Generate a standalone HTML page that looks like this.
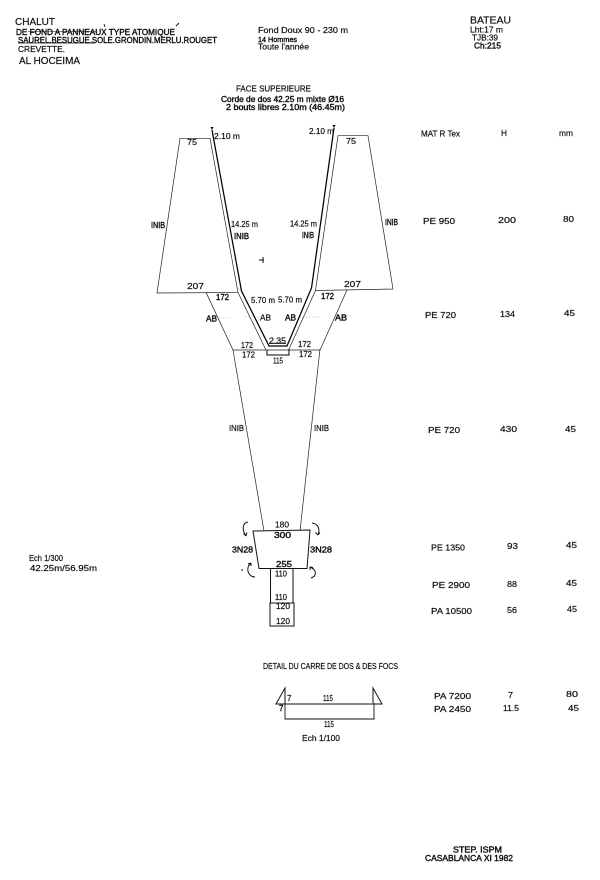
<!DOCTYPE html>
<html><head><meta charset="utf-8"><style>
html,body{margin:0;padding:0;background:#fff;width:600px;height:880px;overflow:hidden}
svg{display:block;position:absolute;left:0;top:0}
text{font-family:"Liberation Sans",sans-serif;font-size:8px;fill:#111;stroke:#111;stroke-width:.2}
.b{stroke-width:.4}
.l{fill:none;stroke:#222;stroke-width:.7}
.t{fill:none;stroke:#000;stroke-width:1.25}
.a{fill:none;stroke:#111;stroke-width:1}
</style></head><body>
<svg width="600" height="880" viewBox="0 0 600 880" xmlns="http://www.w3.org/2000/svg">
<g lengthAdjust="spacingAndGlyphs">
<path d="M216 318H232M245 317H262M300 317H320M340 316H352" stroke="#e2e2e2" stroke-width="1" stroke-dasharray="2 1" fill="none"/>

<!-- header -->
<text x="15" y="25" style="font-size:10px" textLength="40" lengthAdjust="spacingAndGlyphs">CHALUT</text>
<text class="b" x="16" y="35" textLength="159" lengthAdjust="spacingAndGlyphs">DE FOND A PANNEAUX TYPE ATOMIQUE</text>
<path d="M28 31.5H96" stroke="#111" fill="none" stroke-width=".6"/>
<path d="M104 24l1 3M176 26l3-3" stroke="#111" fill="none" stroke-width=".9"/>
<text class="b" x="18" y="43" textLength="199" lengthAdjust="spacingAndGlyphs">SAUREL.BESUGUE.SOLE.GRONDIN.MERLU.ROUGET</text>
<path d="M18 43H95" stroke="#111" stroke-width=".8"/>
<text x="18" y="52" textLength="47" lengthAdjust="spacingAndGlyphs">CREVETTE.</text>
<text x="19" y="64" style="font-size:10px" textLength="61" lengthAdjust="spacingAndGlyphs">AL HOCEIMA</text>

<text x="258" y="33" textLength="90" lengthAdjust="spacingAndGlyphs">Fond Doux 90 - 230 m</text>
<text class="b" x="258" y="42" style="font-size:7.5px" textLength="39" lengthAdjust="spacingAndGlyphs">14 Hommes</text>
<text x="258" y="49.5" textLength="51" lengthAdjust="spacingAndGlyphs">Toute l'année</text>

<text x="470" y="23.5" style="font-size:10px" textLength="41" lengthAdjust="spacingAndGlyphs">BATEAU</text>
<text x="470" y="32.5" textLength="33" lengthAdjust="spacingAndGlyphs">Lht:17 m</text>
<text x="472" y="40.5" textLength="26" lengthAdjust="spacingAndGlyphs">TJB:39</text>
<text class="b" x="474" y="48.5" textLength="27" lengthAdjust="spacingAndGlyphs">Ch:215</text>

<text x="236" y="91.5" textLength="75" lengthAdjust="spacingAndGlyphs">FACE SUPERIEURE</text>
<text class="b" x="221" y="102" textLength="123" lengthAdjust="spacingAndGlyphs">Corde de dos 42.25 m mixte Ø16</text>
<text class="b" x="226" y="110" textLength="119" lengthAdjust="spacingAndGlyphs">2 bouts libres 2.10m (46.45m)</text>

<!-- upper panels -->
<path class="l" d="M180 138.3H210L238 292.5 157 293Z"/>
<path class="l" d="M338 135.7H368L393 289 315.5 290.5Z"/>
<!-- strips -->
<path class="l" d="M238 292.5L266 350"/>
<path class="t" d="M212 130L241.5 291 269 346H287L311.5 288 334 128"/>
<path class="l" d="M315.5 290.5L289 349"/>
<path d="M212 130l-1.5-3 3 0zM334 128l-1.5-3 3 0z" fill="#000"/>
<path d="M269 343.5H286" stroke="#000" stroke-width=".7"/>
<!-- AB panels -->
<path class="l" d="M206 292.3L233 350H320L347 290"/>
<path class="t" style="stroke-width:1" d="M267 350V355H289V349"/>
<!-- body -->
<path class="l" d="M233 350L264 531M320 349L300 531"/>
<path d="M253 531L310 530 307 568.5H259Z" fill="none" stroke="#111" stroke-width="1"/>
<path d="M270.5 569V603M293 569V603" fill="none" stroke="#111" stroke-width="1"/>
<path d="M270 603H294V626H270Z" fill="none" stroke="#111" stroke-width="1"/>

<!-- arrows -->
<path class="a" d="M248 522C242 523 242 530 246 536M246 536l-2.5-2.5M246 536l1-3.5"/>
<path class="a" d="M312 523C319 524 320 530 318 535M318 535l-2.5-2.5M318 535l2-2.5"/>
<path class="a" d="M255 577C248 577 245 568 251 563M251 563l-3 1M251 563l0 3"/>
<path class="a" d="M310 567C317 570 317 576 311 578M310 567l0 3M310 567l3 0.5"/>
<path d="M241 570h2" stroke="#111"/>

<!-- labels panel -->
<text x="187" y="145" textLength="10" lengthAdjust="spacingAndGlyphs">75</text>
<text x="214" y="139" textLength="26" lengthAdjust="spacingAndGlyphs">2.10 m</text>
<text x="309" y="134" textLength="25" lengthAdjust="spacingAndGlyphs">2.10 m</text>
<text x="346" y="144" textLength="10" lengthAdjust="spacingAndGlyphs">75</text>
<text class="b" x="151" y="228" textLength="14" lengthAdjust="spacingAndGlyphs">INIB</text>
<text class="b" x="385" y="225" textLength="13" lengthAdjust="spacingAndGlyphs">INIB</text>
<text x="231" y="227" textLength="27" lengthAdjust="spacingAndGlyphs">14.25 m</text>
<text x="290" y="226.5" textLength="27" lengthAdjust="spacingAndGlyphs">14.25 m</text>
<text class="b" x="234" y="239" textLength="15" lengthAdjust="spacingAndGlyphs">INIB</text>
<text class="b" x="302" y="238" textLength="12" lengthAdjust="spacingAndGlyphs">INIB</text>
<path d="M259 260h5M263 257v6" stroke="#111" fill="none"/>
<text x="187" y="289" textLength="17" lengthAdjust="spacingAndGlyphs">207</text>
<text x="344" y="287" textLength="17" lengthAdjust="spacingAndGlyphs">207</text>
<text class="b" x="216" y="300" textLength="13" lengthAdjust="spacingAndGlyphs">172</text>
<text class="b" x="321" y="299" textLength="13" lengthAdjust="spacingAndGlyphs">172</text>
<text x="251" y="303" textLength="24" lengthAdjust="spacingAndGlyphs">5.70 m</text>
<text x="278" y="302.5" textLength="24" lengthAdjust="spacingAndGlyphs">5.70 m</text>
<text class="b" x="206" y="321.5" textLength="11" lengthAdjust="spacingAndGlyphs">AB</text>
<text x="260" y="320.5" textLength="11" lengthAdjust="spacingAndGlyphs">AB</text>
<text class="b" x="285" y="320.5" textLength="11" lengthAdjust="spacingAndGlyphs">AB</text>
<text class="b" x="335" y="320.5" textLength="12" lengthAdjust="spacingAndGlyphs">AB</text>
<text x="269" y="343.5" textLength="17" lengthAdjust="spacingAndGlyphs">2.35</text>
<text x="241" y="348" textLength="12" lengthAdjust="spacingAndGlyphs">172</text>
<text x="298" y="347" textLength="13" lengthAdjust="spacingAndGlyphs">172</text>
<text x="242" y="357.5" textLength="13" lengthAdjust="spacingAndGlyphs">172</text>
<text x="299" y="357" textLength="13" lengthAdjust="spacingAndGlyphs">172</text>
<text x="273" y="363.5" textLength="10" lengthAdjust="spacingAndGlyphs">115</text>
<text x="229" y="431" textLength="15" lengthAdjust="spacingAndGlyphs">INIB</text>
<text x="314" y="431" textLength="15" lengthAdjust="spacingAndGlyphs">INIB</text>
<text x="275" y="527.5" textLength="14" lengthAdjust="spacingAndGlyphs">180</text>
<text class="b" x="274" y="538" textLength="17" lengthAdjust="spacingAndGlyphs">300</text>
<text class="b" x="232" y="552.5" textLength="21" lengthAdjust="spacingAndGlyphs">3N28</text>
<text class="b" x="310" y="552.5" textLength="22" lengthAdjust="spacingAndGlyphs">3N28</text>
<text class="b" x="276" y="567" textLength="16" lengthAdjust="spacingAndGlyphs">255</text>
<text x="275" y="576.5" textLength="12" lengthAdjust="spacingAndGlyphs">110</text>
<text x="275" y="600" textLength="12" lengthAdjust="spacingAndGlyphs">110</text>
<text x="276" y="609" textLength="14" lengthAdjust="spacingAndGlyphs">120</text>
<text x="276" y="624" textLength="14" lengthAdjust="spacingAndGlyphs">120</text>

<text x="29" y="561" textLength="34" lengthAdjust="spacingAndGlyphs">Ech 1/300</text>
<text x="30" y="571" textLength="67" lengthAdjust="spacingAndGlyphs">42.25m/56.95m</text>

<!-- table -->
<text x="421" y="136.5" textLength="39" lengthAdjust="spacingAndGlyphs">MAT R Tex</text>
<text x="501" y="136" textLength="6" lengthAdjust="spacingAndGlyphs">H</text>
<text x="559" y="136" textLength="14" lengthAdjust="spacingAndGlyphs">mm</text>
<text x="423" y="224" textLength="32" lengthAdjust="spacingAndGlyphs">PE 950</text><text x="498" y="223" textLength="18" lengthAdjust="spacingAndGlyphs">200</text><text x="563" y="222" textLength="11" lengthAdjust="spacingAndGlyphs">80</text>
<text x="425" y="318" textLength="31" lengthAdjust="spacingAndGlyphs">PE 720</text><text x="500" y="317" textLength="15" lengthAdjust="spacingAndGlyphs">134</text><text x="564" y="316" textLength="11" lengthAdjust="spacingAndGlyphs">45</text>
<text x="428" y="433" textLength="32" lengthAdjust="spacingAndGlyphs">PE 720</text><text x="500" y="432" textLength="17" lengthAdjust="spacingAndGlyphs">430</text><text x="565" y="432" textLength="11" lengthAdjust="spacingAndGlyphs">45</text>
<text x="431" y="550.5" textLength="34" lengthAdjust="spacingAndGlyphs">PE 1350</text><text x="507" y="549" textLength="11" lengthAdjust="spacingAndGlyphs">93</text><text x="566" y="548" textLength="11" lengthAdjust="spacingAndGlyphs">45</text>
<text x="432" y="588" textLength="38" lengthAdjust="spacingAndGlyphs">PE 2900</text><text x="507" y="587" textLength="10" lengthAdjust="spacingAndGlyphs">88</text><text x="566" y="586" textLength="11" lengthAdjust="spacingAndGlyphs">45</text>
<text x="431" y="614" textLength="41" lengthAdjust="spacingAndGlyphs">PA 10500</text><text x="507" y="613" textLength="10" lengthAdjust="spacingAndGlyphs">56</text><text x="567" y="612" textLength="10" lengthAdjust="spacingAndGlyphs">45</text>
<text x="434" y="699" textLength="37" lengthAdjust="spacingAndGlyphs">PA 7200</text><text x="508" y="698" textLength="5" lengthAdjust="spacingAndGlyphs">7</text><text x="566" y="697" textLength="12" lengthAdjust="spacingAndGlyphs">80</text>
<text x="434" y="712" textLength="37" lengthAdjust="spacingAndGlyphs">PA 2450</text><text x="503" y="711" textLength="16" lengthAdjust="spacingAndGlyphs">11.5</text><text x="568" y="711" textLength="11" lengthAdjust="spacingAndGlyphs">45</text>

<!-- detail -->
<text x="263" y="669" textLength="135" lengthAdjust="spacingAndGlyphs">DETAIL DU CARRE DE DOS &amp; DES FOCS</text>
<path d="M285 704V688L276 704H382L373 688V703" fill="none" stroke="#111" stroke-width="1"/>
<path d="M285 704V719H374V703" fill="none" stroke="#111" stroke-width=".9"/>
<text x="287" y="701">7</text>
<text class="b" x="279" y="711">7</text>
<text x="323" y="701" textLength="10" lengthAdjust="spacingAndGlyphs">115</text>
<text x="324" y="727" textLength="10" lengthAdjust="spacingAndGlyphs">115</text>
<text x="302" y="741" textLength="38" lengthAdjust="spacingAndGlyphs">Ech 1/100</text>

<text class="b" x="453" y="852.5" textLength="49" lengthAdjust="spacingAndGlyphs">STEP. ISPM</text>
<text class="b" x="425" y="861" textLength="88" lengthAdjust="spacingAndGlyphs">CASABLANCA XI 1982</text>
</g>
</svg>
</body></html>
